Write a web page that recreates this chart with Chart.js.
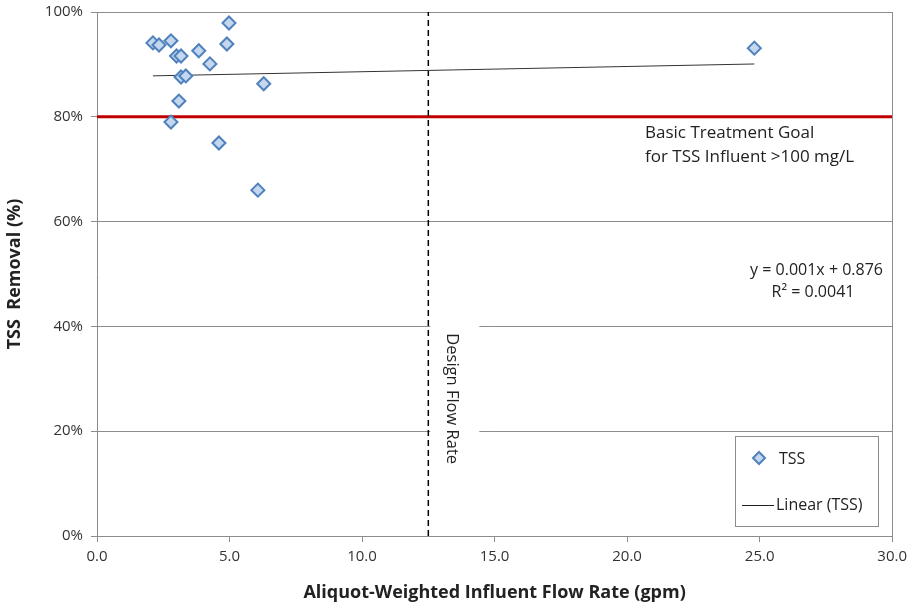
<!DOCTYPE html>
<html>
<head>
<meta charset="utf-8">
<script src="https://cdn.jsdelivr.net/npm/chart.js@4/dist/chart.umd.min.js"></script>
<style>
html,body{margin:0;padding:0;background:#fff;}
#wrap{width:913px;height:608px;position:relative;}
</style>
</head>
<body>
<div id="wrap"><canvas id="c" width="913" height="608"></canvas></div>
<script>
// ---- data ----
const tssFlow = [2.11, 2.34, 2.79, 3.0, 3.17, 3.84, 4.98, 4.9, 4.26, 3.17, 3.35, 3.09, 2.79, 4.6, 6.07, 6.29, 24.8];
const tssRemoval = [94.1, 93.7, 94.5, 91.6, 91.6, 92.6, 97.9, 93.9, 90.1, 87.6, 87.8, 83.0, 79.0, 75.0, 66.0, 86.3, 93.1];
const trendSlope = 0.001;      // from equation label (fraction per gpm)
const trendIntercept = 0.876;
const trendX = [2.11, 24.8];
const goalLevel = [80, 80];
const goalX = [0, 30];
const designFlow = [12.5, 12.5];
const designY = [0, 100];
const xTicks = [0, 5, 10, 15, 20, 25, 30];
const yTicks = [0, 20, 40, 60, 80, 100];
const labels = {
  series: 'TSS',
  trend: 'Linear (TSS)',
  goal1: 'Basic Treatment Goal',
  goal2: 'for TSS Influent >100 mg/L',
  eq1: 'y = 0.001x + 0.876',
  eq2: 'R\u00B2 = 0.0041',
  design: 'Design Flow Rate',
  xTitle: 'Aliquot-Weighted Influent Flow Rate (gpm)',
  yTitle: 'TSS  Removal (%)'
};

const FONT = "'Liberation Sans Narrow', 'Open Sans', sans-serif";
const FONT2 = "'Open Sans', 'Liberation Sans', sans-serif";

const scatterPts = tssFlow.map((x, i) => ({x, y: tssRemoval[i]}));
const trendPts = trendX.map(x => ({x, y: (trendSlope * x + trendIntercept) * 100}));
const goalPts = goalX.map((x, i) => ({x, y: goalLevel[i]}));
const designPts = designFlow.map((x, i) => ({x, y: designY[i]}));

const overlay = {
  id: 'overlay',
  afterDatasetsDraw(chart) {
    const ctx = chart.ctx;
    const xs = chart.scales.x, ys = chart.scales.y;
    ctx.save();
    // Design flow rate label with white box
    const dx = xs.getPixelForValue(12.5);
    ctx.fillStyle = '#fff';
    ctx.fillRect(dx + 2, ys.getPixelForValue(42), 49, ys.getPixelForValue(12) - ys.getPixelForValue(42));
    ctx.translate(dx + 23, ys.getPixelForValue(26.2));
    ctx.rotate(Math.PI / 2);
    ctx.fillStyle = '#222';
    ctx.font = "16.5px " + FONT2;
    ctx.textAlign = 'center';
    ctx.textBaseline = 'middle';
    ctx.fillText(labels.design, 0, 0);
    ctx.restore();

    ctx.save();
    ctx.fillStyle = '#222';
    ctx.font = "17px " + FONT2;
    ctx.textAlign = 'left';
    ctx.textBaseline = 'middle';
    ctx.fillText(labels.goal1, 645, 133);
    ctx.fillText(labels.goal2, 645, 157);
    ctx.font = "16px " + FONT2;
    ctx.textAlign = 'right';
    ctx.fillText(labels.eq1, 883, 270);
    ctx.textAlign = 'center';
    ctx.fillText(labels.eq2, 813, 292);

    // legend
    ctx.fillStyle = '#fff';
    ctx.fillRect(735, 436, 144, 91);
    ctx.strokeStyle = '#8c8c8c';
    ctx.lineWidth = 1;
    ctx.strokeRect(735.5, 436.5, 143, 90);
    // diamond
    ctx.beginPath();
    ctx.moveTo(759, 452); ctx.lineTo(765, 458); ctx.lineTo(759, 464); ctx.lineTo(753, 458); ctx.closePath();
    ctx.fillStyle = '#c5d7ef';
    ctx.fill();
    ctx.strokeStyle = '#4f81bd';
    ctx.lineWidth = 2;
    ctx.stroke();
    ctx.beginPath();
    ctx.moveTo(742, 505.5); ctx.lineTo(774, 505.5);
    ctx.strokeStyle = '#222';
    ctx.lineWidth = 1;
    ctx.stroke();
    ctx.fillStyle = '#222';
    ctx.textAlign = 'left';
    ctx.font = "16px " + FONT2;
    ctx.fillText(labels.series, 779, 459);
    ctx.fillText(labels.trend, 776, 505);
    ctx.restore();
  }
};

new Chart(document.getElementById('c'), {
  type: 'scatter',
  data: {
    datasets: [
      {label: 'goal', data: goalPts, type: 'line', borderColor: '#c00000', borderWidth: 3, pointRadius: 0, order: 4},
      {label: 'design', data: designPts, type: 'line', borderColor: '#000', borderWidth: 1.5, borderDash: [6, 4], pointRadius: 0, order: 3},
      {label: labels.trend, data: trendPts, type: 'line', borderColor: '#333', borderWidth: 1, pointRadius: 0, order: 2},
      {label: labels.series, data: scatterPts, pointStyle: 'rectRot', pointRadius: 6.5, pointHoverRadius: 6.5,
       backgroundColor: '#c5d7ef', borderColor: '#4f81bd', borderWidth: 2, order: 1}
    ]
  },
  options: {
    responsive: false,
    animation: false,
    events: [],
    layout: {autoPadding: false, padding: {top: 12, right: 19, left: 0, bottom: 0}},
    plugins: {legend: {display: false}, tooltip: {enabled: false}},
    scales: {
      x: {
        type: 'linear', min: 0, max: 30,
        afterBuildTicks: s => { s.ticks = xTicks.map(v => ({value: v})); },
        afterFit: s => { s.height = 72; },
        ticks: {callback: v => v.toFixed(1), color: '#333', font: {family: FONT, size: 15}, padding: 6, maxRotation: 0},
        grid: {drawOnChartArea: false, color: '#8c8c8c', tickLength: 6},
        border: {color: '#8c8c8c'},
        title: {display: true, text: labels.xTitle, color: '#222', font: {family: FONT, size: 18, weight: 'bold'}, padding: {top: 6}}
      },
      y: {
        type: 'linear', min: 0, max: 100,
        afterBuildTicks: s => { s.ticks = yTicks.map(v => ({value: v})); },
        afterFit: s => { s.width = 97; s.paddingTop = 0; s.paddingBottom = 0; },
        ticks: {callback: v => v + '%', color: '#333', font: {family: FONT, size: 15}, padding: 8},
        grid: {color: '#8c8c8c', tickLength: 6},
        border: {color: '#8c8c8c'},
        title: {display: true, text: labels.yTitle, color: '#222', font: {family: FONT, size: 18, weight: 'bold'}, padding: {bottom: 4}}
      }
    }
  },
  plugins: [overlay, {
    id: 'rightBorder',
    afterDraw(chart) {
      const a = chart.chartArea, ctx = chart.ctx;
      ctx.save();
      ctx.strokeStyle = '#8c8c8c'; ctx.lineWidth = 1;
      ctx.beginPath(); ctx.moveTo(Math.round(a.right) + 0.5, a.top); ctx.lineTo(Math.round(a.right) + 0.5, a.bottom); ctx.stroke();
      ctx.restore();
    }
  }]
});
</script>
</body>
</html>
